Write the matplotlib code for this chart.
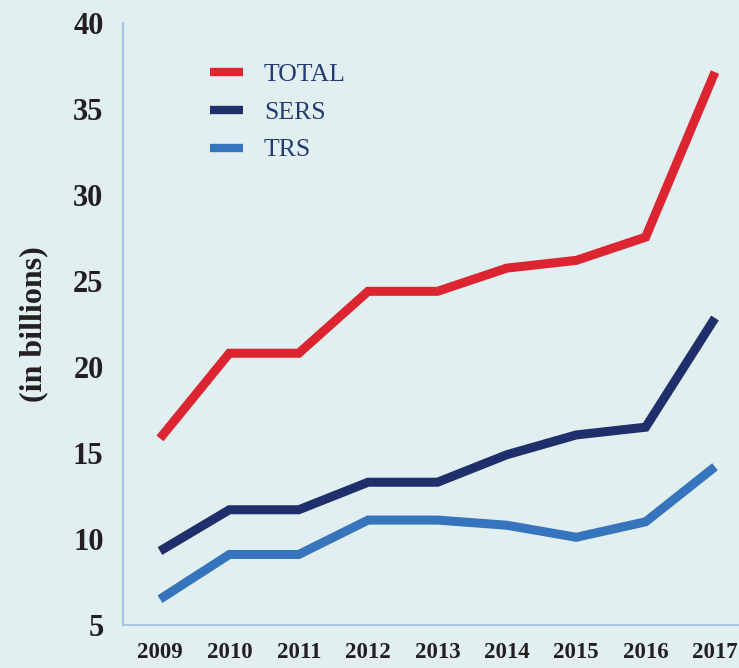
import matplotlib
matplotlib.use("Agg")
import matplotlib.pyplot as plt

years = [2009, 2010, 2011, 2012, 2013, 2014, 2015, 2016, 2017]
total = [15.85, 20.8, 20.8, 24.4, 24.4, 25.75, 26.2, 27.55, 37.15]
sers = [9.3, 11.7, 11.7, 13.3, 13.3, 14.9, 16.05, 16.5, 22.85]
trs = [6.5, 9.1, 9.1, 11.1, 11.1, 10.8, 10.1, 11.0, 14.2]
yticks = [5, 10, 15, 20, 25, 30, 35, 40]

BG = "#e1eff0"
SPINE = "#a9c6e0"
TEXT = "#231f20"
LEGEND_TEXT = "#233a73"

plt.rcParams["font.family"] = ["Liberation Serif", "DejaVu Serif"]

fig = plt.figure(figsize=(7.39, 6.68), dpi=100)
fig.patch.set_facecolor(BG)
ax = fig.add_axes([123 / 739, 1 - 625 / 668, 1 - 123 / 739, (625 - 23) / 668])
ax.set_facecolor(BG)

lw = 6.5
ax.plot(years, total, color="#dc2530", lw=lw, solid_capstyle="butt",
        solid_joinstyle="miter", label="TOTAL")
ax.plot(years, sers, color="#1f2f6b", lw=lw, solid_capstyle="butt",
        solid_joinstyle="miter", label="SERS")
ax.plot(years, trs, color="#3674bd", lw=lw, solid_capstyle="butt",
        solid_joinstyle="miter", label="TRS")

ax.set_xlim(2008.467, 2017.346)
ax.set_ylim(5, 40)
ax.set_xticks(years)
ax.set_xticklabels([str(y) for y in years])
ax.set_yticks(yticks)

for side in ("top", "right"):
    ax.spines[side].set_visible(False)
for side in ("left", "bottom"):
    ax.spines[side].set_color(SPINE)
    ax.spines[side].set_linewidth(1.5)

ax.tick_params(axis="y", length=0, pad=14, labelsize=22, labelcolor=TEXT)
ax.tick_params(axis="x", length=0, pad=12, labelsize=16.5, labelcolor=TEXT)
for lab in ax.get_xticklabels() + ax.get_yticklabels():
    lab.set_fontweight("bold")

ax.set_ylabel("(in billions)", fontsize=23, fontweight="bold", color=TEXT)
ax.yaxis.set_label_coords(-0.122, 0.5)

leg = ax.legend(loc="upper left", bbox_to_anchor=(0.141, 0.934),
                frameon=False, fontsize=18.5, handlelength=1.3,
                handletextpad=0.8, labelspacing=0.58, borderpad=0,
                borderaxespad=0)
for t in leg.get_texts():
    t.set_color(LEGEND_TEXT)
for h in leg.get_lines():
    h.set_linewidth(6)

fig.savefig("out.png", dpi=100, facecolor=BG)
